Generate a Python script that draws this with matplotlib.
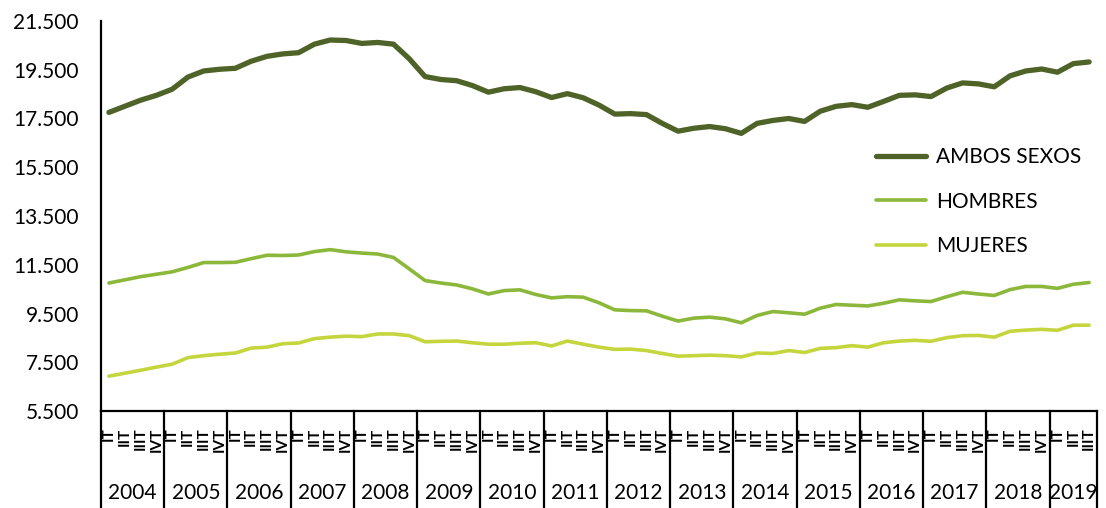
import numpy as np
import matplotlib
matplotlib.use("Agg")
import matplotlib.pyplot as plt
from matplotlib.ticker import FuncFormatter
from matplotlib.transforms import blended_transform_factory

plt.rcParams['font.family'] = ['Lato', 'DejaVu Sans']

# quarterly series, 2004 I to 2019 III
years = [str(y) for y in range(2004, 2020)]
quarters = ["IT", "IIT", "IIIT", "IVT"]

ambos = [17750, 18000, 18250, 18450, 18700, 19200, 19450, 19520,
         19560, 19850, 20050, 20150, 20200, 20550, 20720, 20700,
         20580, 20620, 20550, 19950, 19220, 19100, 19050, 18850,
         18580, 18720, 18770, 18600, 18360, 18520, 18350, 18050,
         17680, 17700, 17660, 17300, 16980, 17100, 17170, 17080,
         16890, 17300, 17420, 17500, 17380, 17800, 18000, 18070,
         17960, 18200, 18450, 18470, 18400, 18750, 18960, 18920,
         18800, 19250, 19450, 19530, 19400, 19750, 19820]
hombres = [10750, 10880, 11010, 11110, 11210, 11390, 11590, 11590,
           11600, 11750, 11890, 11880, 11900, 12040, 12120, 12030,
           11980, 11940, 11800, 11330, 10850, 10750, 10670, 10510,
           10300, 10440, 10470, 10280, 10140, 10190, 10170, 9940,
           9650, 9620, 9610, 9390, 9190, 9310, 9350, 9280,
           9120, 9420, 9580, 9530, 9470, 9720, 9870, 9840,
           9810, 9920, 10060, 10020, 9990, 10190, 10370, 10300,
           10240, 10480, 10610, 10610, 10530, 10700, 10770]
mujeres = [6930, 7050, 7170, 7300, 7420, 7690, 7770, 7830,
           7880, 8080, 8120, 8260, 8290, 8470, 8530, 8570,
           8550, 8660, 8660, 8590, 8340, 8360, 8370, 8300,
           8240, 8240, 8280, 8300, 8170, 8370, 8240, 8120,
           8030, 8040, 7980, 7860, 7750, 7770, 7790, 7770,
           7720, 7880, 7860, 7980, 7900, 8070, 8100, 8180,
           8120, 8300, 8370, 8400, 8360, 8510, 8590, 8600,
           8530, 8770, 8820, 8850, 8810, 9020, 9020]

n = len(ambos)
x = np.arange(n)

fig = plt.figure(figsize=(11.06, 5.08), dpi=100)
ax = fig.add_axes([101/1106, 1 - 411/508, 996/1106, 390/508])

ax.plot(x, ambos, color="#4F6228", lw=3.8, solid_capstyle="round",
        solid_joinstyle="round", label="AMBOS SEXOS")
ax.plot(x, hombres, color="#8BB83A", lw=2.6, solid_capstyle="round",
        solid_joinstyle="round", label="HOMBRES")
ax.plot(x, mujeres, color="#C5D53D", lw=2.6, solid_capstyle="round",
        solid_joinstyle="round", label="MUJERES")

ax.set_xlim(-0.5, n - 0.5)
ax.set_ylim(5500, 21500)
ax.set_yticks(np.arange(5500, 21501, 2000))
ax.yaxis.set_major_formatter(FuncFormatter(lambda v, p: "{:,.0f}".format(v).replace(",", ".")))
ax.tick_params(axis="y", length=0, pad=16, labelsize=15)
ax.set_xticks([])
for s in ["top", "right"]:
    ax.spines[s].set_visible(False)
ax.spines["left"].set_linewidth(1.6)
ax.spines["bottom"].set_linewidth(1.6)

# two level category axis below the plot
tr = blended_transform_factory(ax.transData, ax.transAxes)
for k in range(len(years) + 1):
    xs = min(-0.5 + 4 * k, n - 0.5)
    ax.plot([xs, xs], [0, -0.25], color="black", lw=1.6, transform=tr, clip_on=False)
for i in range(n):
    ax.text(i, -0.042, quarters[i % 4], rotation=90, ha="center", va="top",
            fontsize=11, fontweight="bold", transform=tr)
for k, yr in enumerate(years):
    last = min(4 * k + 3, n - 1)
    ax.text((4 * k + last) / 2, -0.21, yr, ha="center", va="center",
            fontsize=15, transform=tr)

ax.legend(loc="upper left", bbox_to_anchor=(876/1106, 1 - 147/508),
          bbox_transform=fig.transFigure, frameon=False, fontsize=15,
          handlelength=2.4, handletextpad=0.5, labelspacing=1.18,
          borderpad=0, borderaxespad=0)

fig.savefig("out.png", dpi=100)
